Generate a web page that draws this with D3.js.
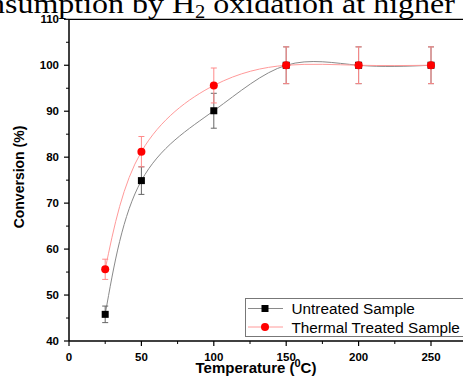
<!DOCTYPE html>
<html>
<head>
<meta charset="utf-8">
<script src="https://cdn.jsdelivr.net/npm/d3@7"></script>
<style>
  body { margin: 0; background: #fff; }
  svg { display: block; }
</style>
</head>
<body>
<svg id="chart" width="463" height="376"></svg>
<script>
// temperatures (C)
var temps = [25, 50, 100, 150, 200, 250];

// conversion values (%)
var untreated = [45.8, 74.9, 90.1, 100, 100, 100];
var untreatedErr = [1.8, 3.0, 3.8, 4.0, 4.0, 4.0];
var thermal = [55.6, 81.2, 95.6, 100, 100, 100];
var thermalErr = [2.2, 3.3, 3.8, 4.0, 4.0, 4.0];

var xTicks = [0, 50, 100, 150, 200, 250];
var yTicks = [40, 50, 60, 70, 80, 90, 100, 110];

var svg = d3.select("#chart");
var width = +svg.attr("width"),
    height = +svg.attr("height");

var x = d3.scaleLinear().domain([0, 250]).range([69, 431]);
var y = d3.scaleLinear().domain([40, 110]).range([341, 19.3]);

// cropped caption text from the page above the figure (stretched like the scan)
var title = svg.append("text")
    .attr("x", 0)
    .attr("y", 0)
    .attr("font-family", "Liberation Serif, Times New Roman, serif")
    .attr("font-size", 28)
    .attr("fill", "#000")
    .html('nsumption by H<tspan font-size="18" dy="5">2</tspan><tspan dy="-5"> oxidation at higher</tspan>');
var tw = title.node().getComputedTextLength();
var sx = (455 + 11) / tw;
title.attr("transform", "translate(-11,13.3) scale(" + sx + ",1)");

// frame (top line + right side runs off the picture)
svg.append("line")
    .attr("x1", x(0)).attr("x2", width + 5)
    .attr("y1", y(110)).attr("y2", y(110))
    .attr("stroke", "#000").attr("stroke-width", 1.3);

// bottom axis
var xAxis = svg.append("g").attr("transform", "translate(0," + y(40) + ")");
xAxis.append("line")
    .attr("x1", x(0)).attr("x2", width + 5)
    .attr("stroke", "#000").attr("stroke-width", 1.5);
xAxis.selectAll(".minor").data(d3.range(25, 300, 50))
  .enter().append("line")
    .attr("x1", function(d) { return x(d); }).attr("x2", function(d) { return x(d); })
    .attr("y1", 0).attr("y2", 3)
    .attr("stroke", "#000").attr("stroke-width", 1);
xAxis.selectAll(".major").data(xTicks.concat([300]))
  .enter().append("line")
    .attr("x1", function(d) { return x(d); }).attr("x2", function(d) { return x(d); })
    .attr("y1", 0).attr("y2", 5)
    .attr("stroke", "#000").attr("stroke-width", 1.2);
xAxis.selectAll("text").data(xTicks)
  .enter().append("text")
    .attr("x", function(d) { return x(d); })
    .attr("y", 20)
    .attr("text-anchor", "middle")
    .attr("font-family", "Liberation Sans, Arial, sans-serif")
    .attr("font-weight", "bold")
    .attr("font-size", 11.5)
    .text(function(d) { return d; });

// left axis
var yAxis = svg.append("g").attr("transform", "translate(" + x(0) + ",0)");
yAxis.append("line")
    .attr("y1", y(40)).attr("y2", y(110))
    .attr("stroke", "#000").attr("stroke-width", 1.5);
yAxis.selectAll(".minor").data(d3.range(45, 110, 10))
  .enter().append("line")
    .attr("y1", function(d) { return y(d); }).attr("y2", function(d) { return y(d); })
    .attr("x1", 0).attr("x2", -3)
    .attr("stroke", "#000").attr("stroke-width", 1);
yAxis.selectAll(".major").data(yTicks)
  .enter().append("line")
    .attr("y1", function(d) { return y(d); }).attr("y2", function(d) { return y(d); })
    .attr("x1", 0).attr("x2", -5)
    .attr("stroke", "#000").attr("stroke-width", 1.2);
yAxis.selectAll("text").data(yTicks)
  .enter().append("text")
    .attr("x", -10)
    .attr("y", function(d) { return y(d) + 4; })
    .attr("text-anchor", "end")
    .attr("font-family", "Liberation Sans, Arial, sans-serif")
    .attr("font-weight", "bold")
    .attr("font-size", 11.5)
    .text(function(d) { return d; });

// axis titles
svg.append("text")
    .attr("transform", "translate(23.5," + 177 + ") rotate(-90)")
    .attr("text-anchor", "middle")
    .attr("font-family", "Liberation Sans, Arial, sans-serif")
    .attr("font-weight", "bold")
    .attr("font-size", 14)
    .text("Conversion (%)");

svg.append("text")
    .attr("x", 256)
    .attr("y", 373)
    .attr("text-anchor", "middle")
    .attr("font-family", "Liberation Sans, Arial, sans-serif")
    .attr("font-weight", "bold")
    .attr("font-size", 15)
    .html('Temperature (<tspan font-size="11" dy="-6">0</tspan><tspan dy="6">C)</tspan>');

// series
var series = [
  {name: "Untreated Sample", values: untreated, err: untreatedErr, line: "#8a8a8a", bar: "#666", mark: "#000", shape: "square"},
  {name: "Thermal Treated Sample", values: thermal, err: thermalErr, line: "#ff9a9a", bar: "#ff8a8a", mark: "#ff0000", shape: "circle"}
];

var lineGen = d3.line()
    .x(function(d) { return x(d[0]); })
    .y(function(d) { return y(d[1]); })
    .curve(d3.curveNatural);

series.forEach(function(s) {
  var pts = temps.map(function(t, i) { return [t, s.values[i], s.err[i]]; });

  svg.append("path")
      .datum(pts)
      .attr("d", lineGen)
      .attr("fill", "none")
      .attr("stroke", s.line)
      .attr("stroke-width", 1);

  var eb = svg.append("g").selectAll("g").data(pts).enter().append("g")
      .attr("stroke", s.bar).attr("stroke-width", 1);
  eb.append("line")
      .attr("x1", function(d) { return x(d[0]); }).attr("x2", function(d) { return x(d[0]); })
      .attr("y1", function(d) { return y(d[1] - d[2]); })
      .attr("y2", function(d) { return y(d[1] + d[2]); });
  eb.append("line")
      .attr("x1", function(d) { return x(d[0]) - 3; }).attr("x2", function(d) { return x(d[0]) + 3; })
      .attr("y1", function(d) { return y(d[1] + d[2]); })
      .attr("y2", function(d) { return y(d[1] + d[2]); });
  eb.append("line")
      .attr("x1", function(d) { return x(d[0]) - 3; }).attr("x2", function(d) { return x(d[0]) + 3; })
      .attr("y1", function(d) { return y(d[1] - d[2]); })
      .attr("y2", function(d) { return y(d[1] - d[2]); });
});

series.forEach(function(s) {
  var pts = temps.map(function(t, i) { return [t, s.values[i]]; });
  if (s.shape === "square") {
    svg.append("g").selectAll("rect").data(pts).enter().append("rect")
        .attr("x", function(d) { return x(d[0]) - 3.5; })
        .attr("y", function(d) { return y(d[1]) - 3.5; })
        .attr("width", 7).attr("height", 7)
        .attr("fill", s.mark);
  } else {
    svg.append("g").selectAll("circle").data(pts).enter().append("circle")
        .attr("cx", function(d) { return x(d[0]); })
        .attr("cy", function(d) { return y(d[1]); })
        .attr("r", 4)
        .attr("fill", s.mark);
  }
});

// legend
var legend = svg.append("g");
legend.append("rect")
    .attr("x", 245.5).attr("y", 298.5)
    .attr("width", 230).attr("height", 38)
    .attr("fill", "#fff")
    .attr("stroke", "#777").attr("stroke-width", 1);

series.forEach(function(s, i) {
  var ly = 308.5 + i * 18.5;
  legend.append("line")
      .attr("x1", 248).attr("x2", 283)
      .attr("y1", ly).attr("y2", ly)
      .attr("stroke", s.line).attr("stroke-width", 1);
  if (s.shape === "square") {
    legend.append("rect")
        .attr("x", 261.5).attr("y", ly - 3.5)
        .attr("width", 7).attr("height", 7)
        .attr("fill", s.mark);
  } else {
    legend.append("circle")
        .attr("cx", 265).attr("cy", ly).attr("r", 4)
        .attr("fill", s.mark);
  }
  legend.append("text")
      .attr("x", 291.5)
      .attr("y", ly + 5.5)
      .attr("font-family", "Liberation Sans, Arial, sans-serif")
      .attr("font-size", 15.3)
      .text(s.name);
});
</script>
</body>
</html>
